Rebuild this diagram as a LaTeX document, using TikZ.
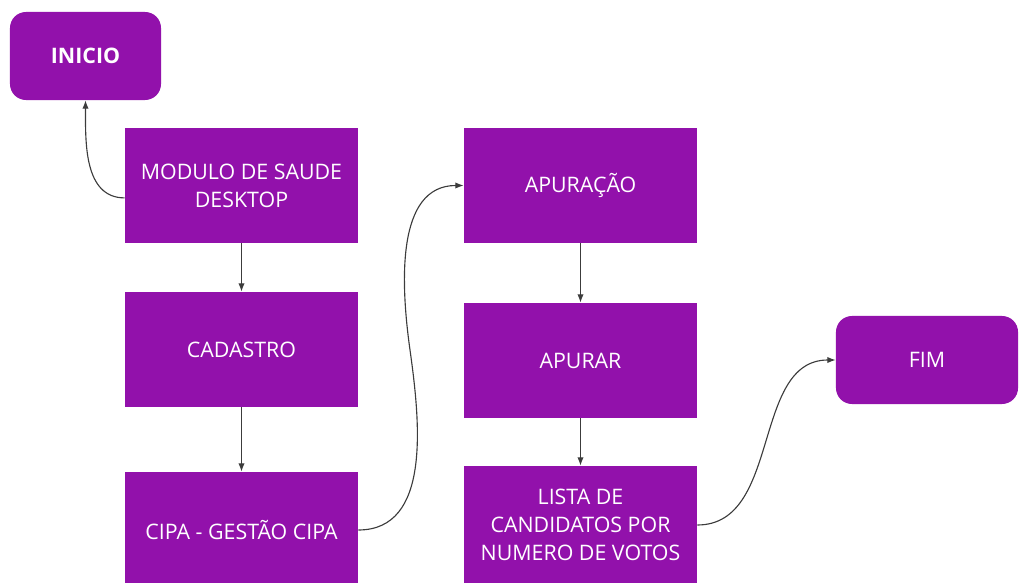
\documentclass[tikz,border=0pt]{standalone}
\usepackage{fontspec}
\setmainfont{Open Sans}
\usetikzlibrary{arrows.meta}
\definecolor{cipapurple}{RGB}{146,17,171}
\definecolor{flowgray}{RGB}{60,60,60}
\tikzset{
  procbox/.style={rectangle, fill=cipapurple, text=white, minimum width=5.825cm, minimum height=2.875cm, align=center, inner sep=0pt, font=\fontsize{15.2}{19.8}\selectfont},
  endbox/.style={procbox, rounded corners=0.4cm, minimum height=2.2cm},
  flow/.style={draw=flowgray, line width=0.8pt, -{Latex[length=6pt,width=4.5pt]}}
}
\begin{document}
\begin{tikzpicture}[x=0.025cm, y=-0.025cm]
  \useasboundingbox (0,0) rectangle (1019,583);
  \node[endbox, minimum width=3.775cm, font=\fontsize{15.2}{19.8}\selectfont\bfseries] (inicio) at (85.5,56) {INICIO};
  \node[procbox] (modulo) at (241.5,185.5) {MODULO DE SAUDE\\DESKTOP};
  \node[procbox] (cadastro) at (241.5,349.5) {CADASTRO};
  \node[procbox, minimum height=2.9cm] (cipa) at (241.5,530) {CIPA - GESTÃO CIPA};
  \node[procbox] (apuracao) at (580.5,185.5) {APURAÇÃO};
  \node[procbox] (apurar) at (580.5,360.5) {APURAR};
  \node[procbox, minimum height=2.95cm] (lista) at (580.5,525) {LISTA DE\\CANDIDATOS POR\\NUMERO DE VOTOS};
  \node[endbox, minimum width=4.55cm] (fim) at (927,360) {FIM};
  \coordinate (meio) at (410,350);

  \draw[flow] ([yshift=-0.31cm]modulo.west) to[out=180, in=-90] (inicio.south);
  \draw[flow] (modulo) -- (cadastro);
  \draw[flow] (cadastro) -- (cipa);
  \draw[flow] (cipa.east) to[out=0, in=-82] (meio) to[out=98, in=180] (apuracao.west);
  \draw[flow] (apuracao) -- (apurar);
  \draw[flow] (apurar) -- (lista);
  \draw[flow] (lista.east) to[out=0, in=180] (fim.west);
\end{tikzpicture}
\end{document}
